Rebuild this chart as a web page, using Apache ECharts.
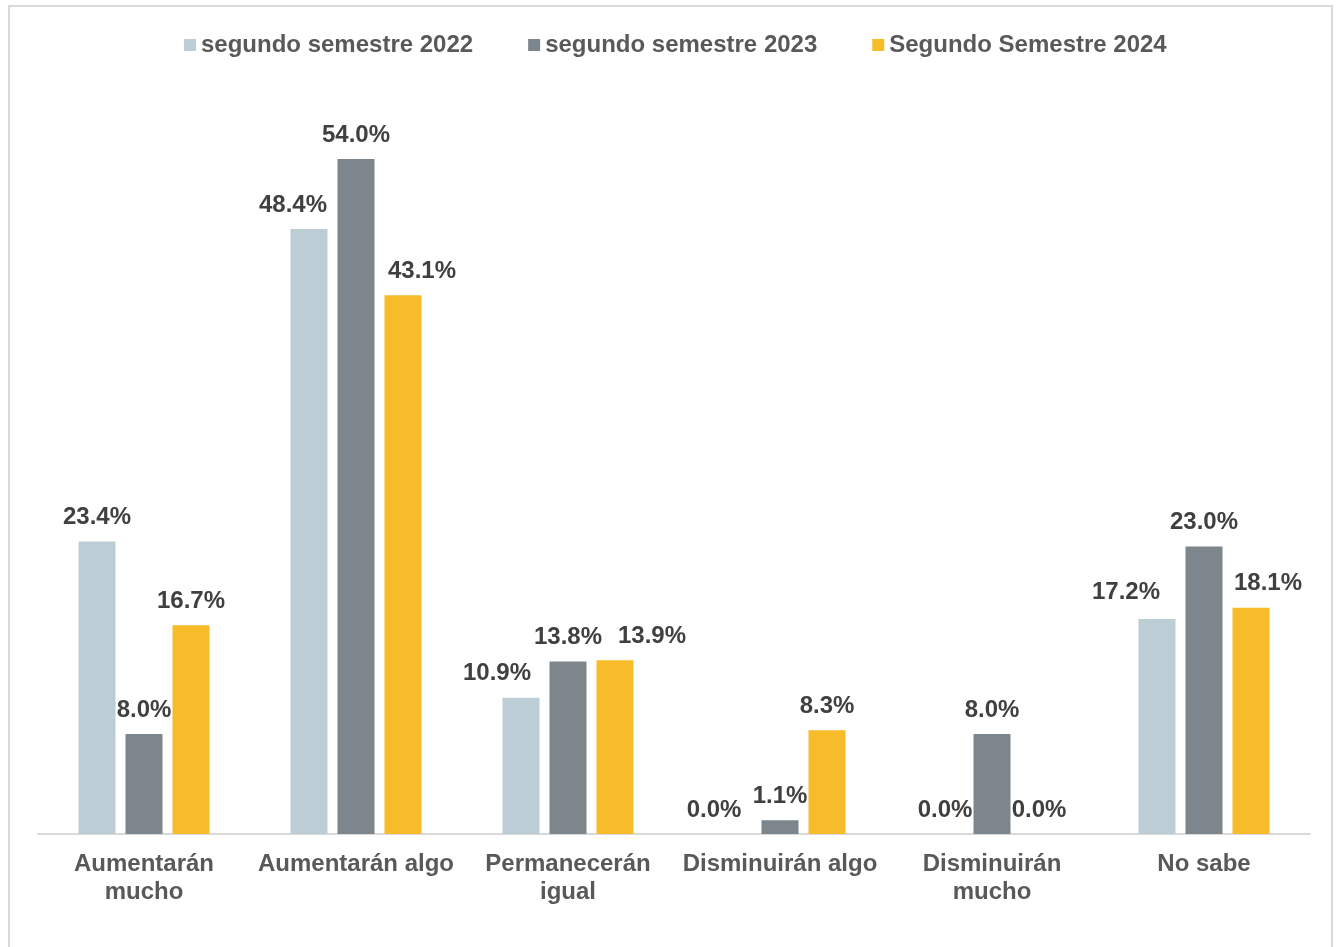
<!DOCTYPE html>
<html>
<head>
<meta charset="utf-8">
<script src="https://cdn.jsdelivr.net/npm/echarts@6/dist/echarts.min.js"></script>
<style>
  html, body { margin: 0; padding: 0; background: #fff; }
  #chart { width: 1338px; height: 947px; }
</style>
</head>
<body>
<div id="chart"></div>
<script>
var categories = ['Aumentarán\nmucho', 'Aumentarán algo', 'Permanecerán\nigual', 'Disminuirán algo', 'Disminuirán\nmucho', 'No sabe'];
var seriesNames = ['segundo semestre 2022', 'segundo semestre 2023', 'Segundo Semestre 2024'];
var s2022 = [23.4, 48.4, 10.9, 0.0, 0.0, 17.2];
var s2023 = [8.0, 54.0, 13.8, 1.1, 8.0, 23.0];
var s2024 = [16.7, 43.1, 13.9, 8.3, 0.0, 18.1];

var colors = ['#BDCDD6', '#7C868C', '#F8BB2A'];

// hand-placed labels in the original, shift those few sideways
var labelShift = {
  '0-1': [-16, 0], '2-1': [19, 0],
  '0-2': [-24, 0], '2-2': [37, 0],
  '0-3': [-19, 0],
  '0-5': [-31, -3], '2-5': [17, 0]
};

function makeSeries(idx, values) {
  return {
    name: seriesNames[idx],
    type: 'bar',
    barWidth: 37,
    barGap: '27%',
    itemStyle: { color: colors[idx] },
    label: {
      show: true,
      position: 'top',
      distance: 12,
      color: '#404040',
      fontFamily: 'Liberation Sans, Arial, sans-serif',
      fontWeight: 'bold',
      fontSize: 24,
      formatter: function (p) { return p.value.toFixed(1) + '%'; }
    },
    data: values.map(function (v, i) {
      var d = { value: v };
      var sh = labelShift[idx + '-' + i];
      if (sh) d.label = { offset: sh };
      return d;
    })
  };
}

var chart = echarts.init(document.getElementById('chart'));
chart.setOption({
  animation: false,
  textStyle: { fontFamily: 'Liberation Sans, Arial, sans-serif' },
  graphic: [{
    type: 'rect',
    shape: { x: 9, y: 6, width: 1323, height: 980 },
    style: { fill: 'none', stroke: '#d9d9d9', lineWidth: 2 },
    silent: true
  }],
  legend: {
    left: 179,
    top: 28,
    itemWidth: 12,
    itemHeight: 12,
    itemGap: 55,
    icon: 'rect',
    textStyle: { color: '#595959', fontSize: 24, fontWeight: 'bold' },
    data: seriesNames
  },
  grid: { left: 38, right: 28, top: 84, bottom: 113, containLabel: false },
  xAxis: {
    type: 'category',
    data: categories,
    axisTick: { show: false },
    axisLine: { lineStyle: { color: '#d9d9d9', width: 2 } },
    axisLabel: {
      color: '#595959',
      fontSize: 24,
      fontWeight: 'bold',
      lineHeight: 28,
      margin: 16,
      interval: 0
    }
  },
  yAxis: {
    type: 'value',
    min: 0,
    max: 60,
    show: false,
    splitLine: { show: false }
  },
  series: [makeSeries(0, s2022), makeSeries(1, s2023), makeSeries(2, s2024)]
});
</script>
</body>
</html>
